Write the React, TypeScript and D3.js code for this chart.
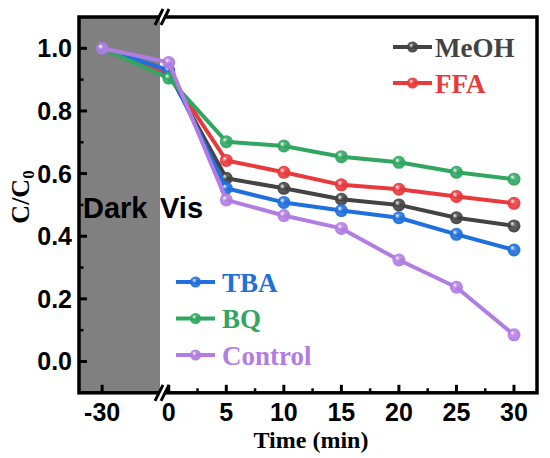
import * as d3 from 'd3';

const times = [-30, 0, 5, 10, 15, 20, 25, 30];
const seriesNames = ['MeOH', 'FFA', 'TBA', 'BQ', 'Control'];
const seriesColors = ['#434343', '#e8393d', '#1f6fdc', '#30a660', '#b27de3'];
const meoh = [1.0, 0.92, 0.585, 0.553, 0.518, 0.5, 0.459, 0.433];
const ffa = [1.0, 0.92, 0.642, 0.604, 0.564, 0.55, 0.527, 0.505];
const tba = [1.0, 0.93, 0.553, 0.508, 0.482, 0.459, 0.406, 0.356];
const bq = [1.0, 0.905, 0.702, 0.688, 0.654, 0.636, 0.604, 0.582];
const control = [1.0, 0.955, 0.516, 0.466, 0.425, 0.324, 0.237, 0.085];
const seriesValues = [meoh, ffa, tba, bq, control];

const yTicks = [0, 0.2, 0.4, 0.6, 0.8, 1.0];
const yMinor = [-0.1, 0.1, 0.3, 0.5, 0.7, 0.9];
const xTicks = [-30, 0, 5, 10, 15, 20, 25, 30];
const xMinor = [2.5, 7.5, 12.5, 17.5, 22.5, 27.5];

const W = 550;
const H = 458;
const L = 79, R = 537, T = 17, B = 392.8;

// broken axis: a short dark segment on the left, then the light part
const x = d3.scaleLinear().domain([-32, -25, -0.5, 32]).range([L, 160, 163, R]);
const y = d3.scaleLinear().domain([-0.1, 1.1]).range([B, T]);

const sans = '"Liberation Sans", Arial, sans-serif';
const serif = '"Liberation Serif", "Times New Roman", serif';

const topLegend = [0, 1];
const bottomLegend = [2, 3, 4];

function Marker({ cx, cy, i, r }: { cx: number; cy: number; i: number; r: number }) {
  return <circle cx={cx} cy={cy} r={r} fill={`url(#ball${i})`} />;
}

export default function App() {
  const line = d3.line<number>().x((_, k) => x(times[k])).y(d => y(d));

  return (
    <div style={{ position: 'fixed', left: 0, top: 0 }}>
      <svg width={W} height={H} style={{ display: 'block', background: '#fff' }}>
        <defs>
          {seriesColors.map((c, i) => (
            <radialGradient key={i} id={`ball${i}`} cx="0.5" cy="0.5" r="0.6" fx="0.35" fy="0.32">
              <stop offset="0" stopColor="#ffffff" />
              <stop offset="0.35" stopColor={c} stopOpacity={0.85} />
              <stop offset="1" stopColor={c} />
            </radialGradient>
          ))}
        </defs>

        {/* dark period */}
        <rect x={L} y={T} width={x(-25) - L} height={B - T} fill="#808080" />

        <text x={83} y={218} fontFamily={sans} fontWeight="bold" fontSize={29} fill="#000">Dark</text>
        <text x={160} y={218} fontFamily={sans} fontWeight="bold" fontSize={29} fill="#000">Vis</text>

        {/* series */}
        {seriesValues.map((vals, i) => (
          <g key={seriesNames[i]}>
            <path d={line(vals) ?? ''} fill="none" stroke={seriesColors[i]} strokeWidth={4} strokeLinejoin="round" />
            {vals.map((v, k) => (
              <Marker key={k} cx={x(times[k])} cy={y(v)} i={i} r={6.5} />
            ))}
          </g>
        ))}

        {/* frame */}
        <rect x={L} y={T} width={R - L} height={B - T} fill="none" stroke="#000" strokeWidth={3.5} />

        {/* y ticks */}
        {yTicks.map(t => (
          <g key={t}>
            <line x1={L} x2={L + 8} y1={y(t)} y2={y(t)} stroke="#000" strokeWidth={3} />
            <text x={72} y={y(t) + 9} textAnchor="end" fontFamily={sans} fontWeight="bold" fontSize={25}>
              {d3.format('.1f')(t)}
            </text>
          </g>
        ))}
        {yMinor.map(t => (
          <line key={t} x1={L} x2={L + 4.5} y1={y(t)} y2={y(t)} stroke="#000" strokeWidth={2.5} />
        ))}

        {/* x ticks */}
        {xTicks.map(t => (
          <g key={t}>
            <line x1={x(t)} x2={x(t)} y1={B} y2={B - 8} stroke="#000" strokeWidth={3} />
            <text x={x(t)} y={421} textAnchor="middle" fontFamily={sans} fontWeight="bold" fontSize={25}>
              {t}
            </text>
          </g>
        ))}
        {xMinor.map(t => (
          <line key={t} x1={x(t)} x2={x(t)} y1={B} y2={B - 4.5} stroke="#000" strokeWidth={2.5} />
        ))}

        {/* axis break marks */}
        {[T, B].map(yy => (
          <g key={yy}>
            <rect x={160} y={yy - 3} width={5} height={6} fill="#fff" />
            <line x1={155} x2={163} y1={yy + 8} y2={yy - 8} stroke="#000" strokeWidth={3} />
            <line x1={161} x2={169} y1={yy + 8} y2={yy - 8} stroke="#000" strokeWidth={3} />
          </g>
        ))}

        {/* axis titles */}
        <text x={311} y={448} textAnchor="middle" fontFamily={serif} fontWeight="bold" fontSize={24}>
          Time (min)
        </text>
        <text transform="translate(29,197) rotate(-90)" textAnchor="middle" fontFamily={serif} fontWeight="bold" fontSize={26}>
          C/C<tspan fontSize={17} dy={5}>0</tspan>
        </text>

        {/* legends */}
        {topLegend.map((i, k) => {
          const ly = 47 + k * 36;
          return (
            <g key={i}>
              <line x1={393} x2={432} y1={ly} y2={ly} stroke={seriesColors[i]} strokeWidth={4} />
              <Marker cx={412.5} cy={ly} i={i} r={5.5} />
              <text x={435} y={ly + 9.5} fontFamily={serif} fontWeight="bold" fontSize={27} fill={seriesColors[i]}>
                {seriesNames[i]}
              </text>
            </g>
          );
        })}
        {bottomLegend.map((i, k) => {
          const ly = 282 + k * 36.5;
          return (
            <g key={i}>
              <line x1={176} x2={215} y1={ly} y2={ly} stroke={seriesColors[i]} strokeWidth={4} />
              <Marker cx={195.5} cy={ly} i={i} r={5.5} />
              <text x={222} y={ly + 9.5} fontFamily={serif} fontWeight="bold" fontSize={27} fill={seriesColors[i]}>
                {seriesNames[i]}
              </text>
            </g>
          );
        })}
      </svg>
    </div>
  );
}
